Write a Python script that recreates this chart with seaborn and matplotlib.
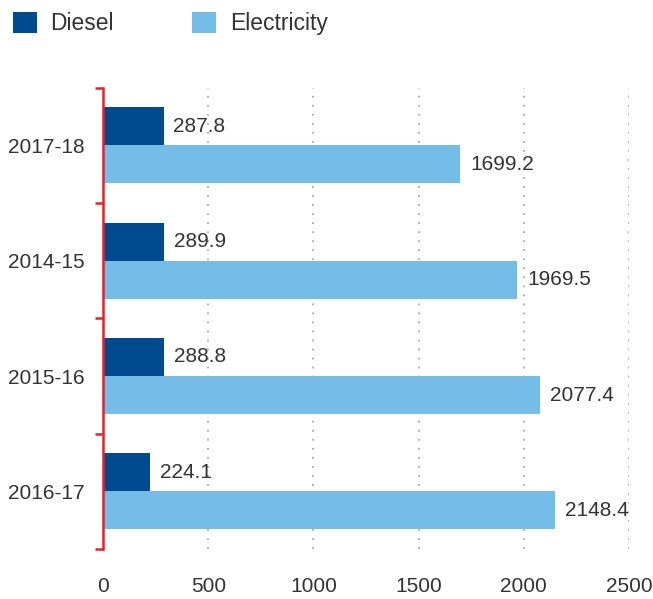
import matplotlib
matplotlib.use("Agg")
import matplotlib.pyplot as plt
from matplotlib.patches import Patch
import seaborn as sns
import pandas as pd

years = ["2017-18", "2014-15", "2015-16", "2016-17"]
diesel = [287.8, 289.9, 288.8, 224.1]
electricity = [1699.2, 1969.5, 2077.4, 2148.4]
series_names = ["Diesel", "Electricity"]
x_ticks = [0, 500, 1000, 1500, 2000, 2500]

colors = {"Diesel": "#004a8f", "Electricity": "#74bde8"}
text_color = "#333333"

df = pd.DataFrame({
    "year": years * 2,
    "value": diesel + electricity,
    "fuel": [series_names[0]] * len(years) + [series_names[1]] * len(years),
})

sns.set_theme(style="white")
plt.rcParams["font.family"] = ["Liberation Sans", "DejaVu Sans"]

fig = plt.figure(figsize=(6.53, 5.99), dpi=100)
ax = fig.add_axes([0.158, 0.0835, 0.805, 0.77])

sns.barplot(data=df, y="year", x="value", hue="fuel", order=years,
            hue_order=series_names, palette=colors, orient="h",
            width=0.66, saturation=1, legend=False, linewidth=0, ax=ax)

ax.set_xlim(0, 2500)
ax.set_ylim(len(years) - 0.5, -0.5)
ax.set_xticks(x_ticks)
ax.set_xticklabels([str(t) for t in x_ticks])
ax.set_xlabel("")
ax.set_ylabel("")

# dotted vertical guides (none at zero)
for t in x_ticks[1:]:
    ax.axvline(t, color="#aaaaaa", linestyle=(0, (1, 4)), linewidth=1.3, zorder=0)

for s in ["top", "right", "bottom"]:
    ax.spines[s].set_visible(False)
ax.spines["left"].set_color("#e8202a")
ax.spines["left"].set_linewidth(1.8)

# category boundary ticks on the red axis line
ax.set_yticks([i - 0.5 for i in range(len(years) + 1)], minor=True)
ax.tick_params(axis="y", which="minor", length=6, width=1.8, color="#e8202a", left=True)
ax.tick_params(axis="y", which="major", length=0, pad=13, labelsize=15, labelcolor=text_color)
ax.tick_params(axis="x", length=0, pad=20, labelsize=15, labelcolor=text_color)

for container in ax.containers:
    ax.bar_label(container, labels=[f"{v:.1f}" for v in container.datavalues],
                 padding=7, fontsize=15, color=text_color)

handles = [Patch(facecolor=colors[n], edgecolor="none") for n in series_names]
fig.legend(handles, series_names, loc="upper left", bbox_to_anchor=(-0.012, 1.015),
           ncol=2, frameon=False, fontsize=16.5, handlelength=1.05, handleheight=1.05,
           handletextpad=0.6, columnspacing=3.4, labelcolor=text_color)

fig.savefig("out.png", dpi=100)
